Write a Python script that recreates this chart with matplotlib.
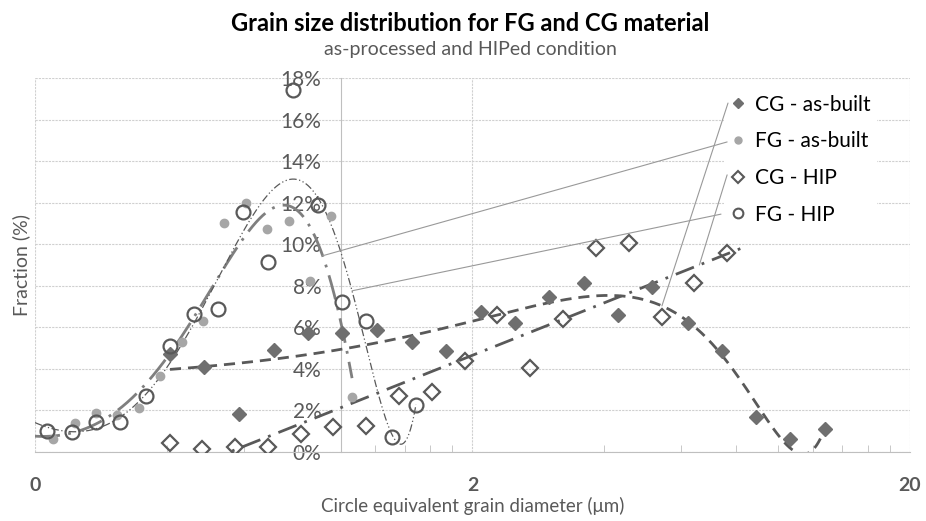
import numpy as np
import matplotlib
matplotlib.use("Agg")
import matplotlib.pyplot as plt
from matplotlib.lines import Line2D

plt.rcParams['font.family'] = ['Lato', 'DejaVu Sans']

# data (fraction in %)
cg_ab_x = [0.407, 0.487, 0.585, 0.704, 0.841, 1.006, 1.210, 1.454, 1.740, 2.091,
           2.501, 2.992, 3.597, 4.301, 5.144, 6.218, 7.437, 8.893, 10.64, 12.79]
cg_ab_y = [4.72, 4.09, 1.83, 4.91, 5.73, 5.73, 5.87, 5.29, 4.86, 6.74,
           6.21, 7.46, 8.13, 6.59, 7.94, 6.21, 4.86, 1.68, 0.63, 1.11]

fg_ab_x = [0.220, 0.247, 0.276, 0.308, 0.346, 0.386, 0.434, 0.484, 0.541, 0.607,
           0.678, 0.761, 0.851, 0.950, 1.061]
fg_ab_y = [0.63, 1.40, 1.88, 1.78, 2.12, 3.66, 5.29, 6.30, 11.02, 11.98,
           10.73, 11.12, 8.23, 11.36, 2.65]

cg_hip_x = [0.407, 0.482, 0.573, 0.682, 0.811, 0.960, 1.142, 1.358, 1.616, 1.923,
            2.275, 2.707, 3.220, 3.831, 4.558, 5.423, 6.417, 7.635]
cg_hip_y = [0.43, 0.14, 0.24, 0.24, 0.87, 1.20, 1.25, 2.69, 2.89, 4.38,
            6.59, 4.04, 6.40, 9.82, 10.06, 6.50, 8.13, 9.58]

fg_hip_x = [0.213, 0.243, 0.276, 0.313, 0.359, 0.407, 0.462, 0.524, 0.598, 0.682,
            0.778, 0.887, 1.006, 1.142, 1.309, 1.485]
fg_hip_y = [1.01, 0.96, 1.44, 1.44, 2.69, 5.10, 6.64, 6.88, 11.55, 9.14,
            17.42, 11.89, 7.22, 6.30, 0.72, 2.26]

labels = ["CG - as-built", "FG - as-built", "CG - HIP", "FG - HIP"]
y_ticks = [0, 2, 4, 6, 8, 10, 12, 14, 16, 18]
x_major = [0.2, 2, 20]
x_major_labels = ["0", "2", "20"]

dark = "#595959"
mid = "#7f7f7f"
light = "#a6a6a6"
grid = "#d0d0d0"

fig = plt.figure(figsize=(9.26, 5.21), dpi=100)
ax = fig.add_axes([35/926, 1-452/521, 875/926, 374/521])
ax.set_xscale("log")
ax.set_xlim(0.2, 20)
ax.set_ylim(0, 18)

# trendlines (polynomial / log fits like Excel's)
def poly_line(x, y, order, x0=None):
    p = np.polyfit(x, y, order)
    xs = np.geomspace(x0 if x0 else min(x), max(x), 500)
    return p, xs, np.polyval(p, xs)

p_cg_ab, xs, ys = poly_line(cg_ab_x, cg_ab_y, 4)
ax.plot(xs, ys, color=dark, lw=2, dashes=(4, 2.5), zorder=3)

p_fg_ab, xs, ys = poly_line(fg_ab_x, fg_ab_y, 4, 0.2)
ax.plot(xs, ys, color=mid, lw=2, dashes=(9, 3, 1, 3), zorder=3)

p_cg_hip = np.polyfit(np.log(cg_hip_x), cg_hip_y, 1)
xs = np.geomspace(min(cg_hip_x), max(cg_hip_x) * 1.1, 300)
ax.plot(xs, np.polyval(p_cg_hip, np.log(xs)), color=dark, lw=2, dashes=(7, 3, 1, 3), zorder=3)

p_fg_hip, xs, ys = poly_line(fg_hip_x, fg_hip_y, 5, 0.2)
ax.plot(xs, ys, color=dark, lw=0.9, dashes=(6, 2, 1, 2, 1, 2), zorder=3)

# markers
ax.plot(cg_ab_x, cg_ab_y, "D", ls="none", ms=7, color="#6f6f6f", mec="#6f6f6f", zorder=4)
ax.plot(fg_ab_x, fg_ab_y, "o", ls="none", ms=6, color=light, mec=light, zorder=4)
ax.plot(cg_hip_x, cg_hip_y, "D", ls="none", ms=8, mfc="none", mec=dark, mew=1.6, zorder=4)
ax.plot(fg_hip_x, fg_hip_y, "o", ls="none", ms=10, mfc="none", mec=dark, mew=1.6, zorder=4)

# axes styling
for s in ["top", "right"]:
    ax.spines[s].set_visible(False)
ax.spines["left"].set_position(("data", 1))
ax.spines["left"].set_color("#bfbfbf")
ax.spines["bottom"].set_color("#bfbfbf")
ax.set_yticks(y_ticks)
ax.set_yticklabels([f"{v}%" for v in y_ticks], fontsize=15, color=dark)
ax.tick_params(axis="y", length=0, pad=14)
for t in ax.get_yticklabels():
    t.set_zorder(5)
ax.set_xticks(x_major)
ax.set_xticklabels(x_major_labels, fontsize=14, color=dark, fontweight="bold")
ax.set_xticks([0.2 * k for k in range(2, 10)] + [2 * k for k in range(2, 10)], minor=True)
ax.set_xticklabels([], minor=True)
ax.tick_params(axis="x", which="major", length=0, pad=18)
ax.tick_params(axis="x", which="minor", direction="in", length=5, color="#bfbfbf")
ax.grid(True, which="major", color=grid, lw=0.8, ls=(0, (2, 1)))
ax.set_axisbelow(True)

ax.set_xlabel("Circle equivalent grain diameter (\u03bcm)", fontsize=13.5, color=dark, labelpad=2)
ax.set_ylabel("Fraction (%)", fontsize=14, color=dark)
ax.yaxis.set_label_coords(-0.006, 0.5)

fig.text(0.508, 0.955, "Grain size distribution for FG and CG material",
         ha="center", va="center", fontsize=17, fontweight="bold", color="black")
fig.text(0.508, 0.905, "as-processed and HIPed condition",
         ha="center", va="center", fontsize=14, color=dark)

handles = [
    Line2D([], [], marker="D", ls="none", ms=5, color="#6f6f6f"),
    Line2D([], [], marker="o", ls="none", ms=5, color=light),
    Line2D([], [], marker="D", ls="none", ms=6, mfc="none", mec=dark, mew=1.5),
    Line2D([], [], marker="o", ls="none", ms=7, mfc="none", mec=dark, mew=1.5),
]
leg = ax.legend(handles, labels, loc="upper left", bbox_to_anchor=(0.775, 1.0),
                frameon=True, facecolor="white", edgecolor="none", fancybox=False,
                fontsize=15, handlelength=0.8, handletextpad=0.4, labelspacing=0.8,
                borderpad=0.3, framealpha=1)
leg.set_zorder(6)

# leader lines from legend entries to the trendlines
leaders = [
    ((0.792, 0.933), 5.42, lambda v: np.polyval(p_cg_ab, v)),
    ((0.791, 0.829), 0.909, lambda v: np.polyval(p_fg_ab, v)),
    ((0.791, 0.741), 6.6, lambda v: np.polyval(p_cg_hip, np.log(v))),
    ((0.784, 0.636), 1.061, lambda v: np.polyval(p_fg_hip, v)),
]
for start, xe, f in leaders:
    ax.annotate("", xy=(xe, f(xe)), xycoords="data", xytext=start, textcoords="axes fraction",
                arrowprops=dict(arrowstyle="-", color="#999999", lw=0.8, shrinkA=0, shrinkB=0),
                zorder=7)

fig.savefig("out.png", dpi=100)
